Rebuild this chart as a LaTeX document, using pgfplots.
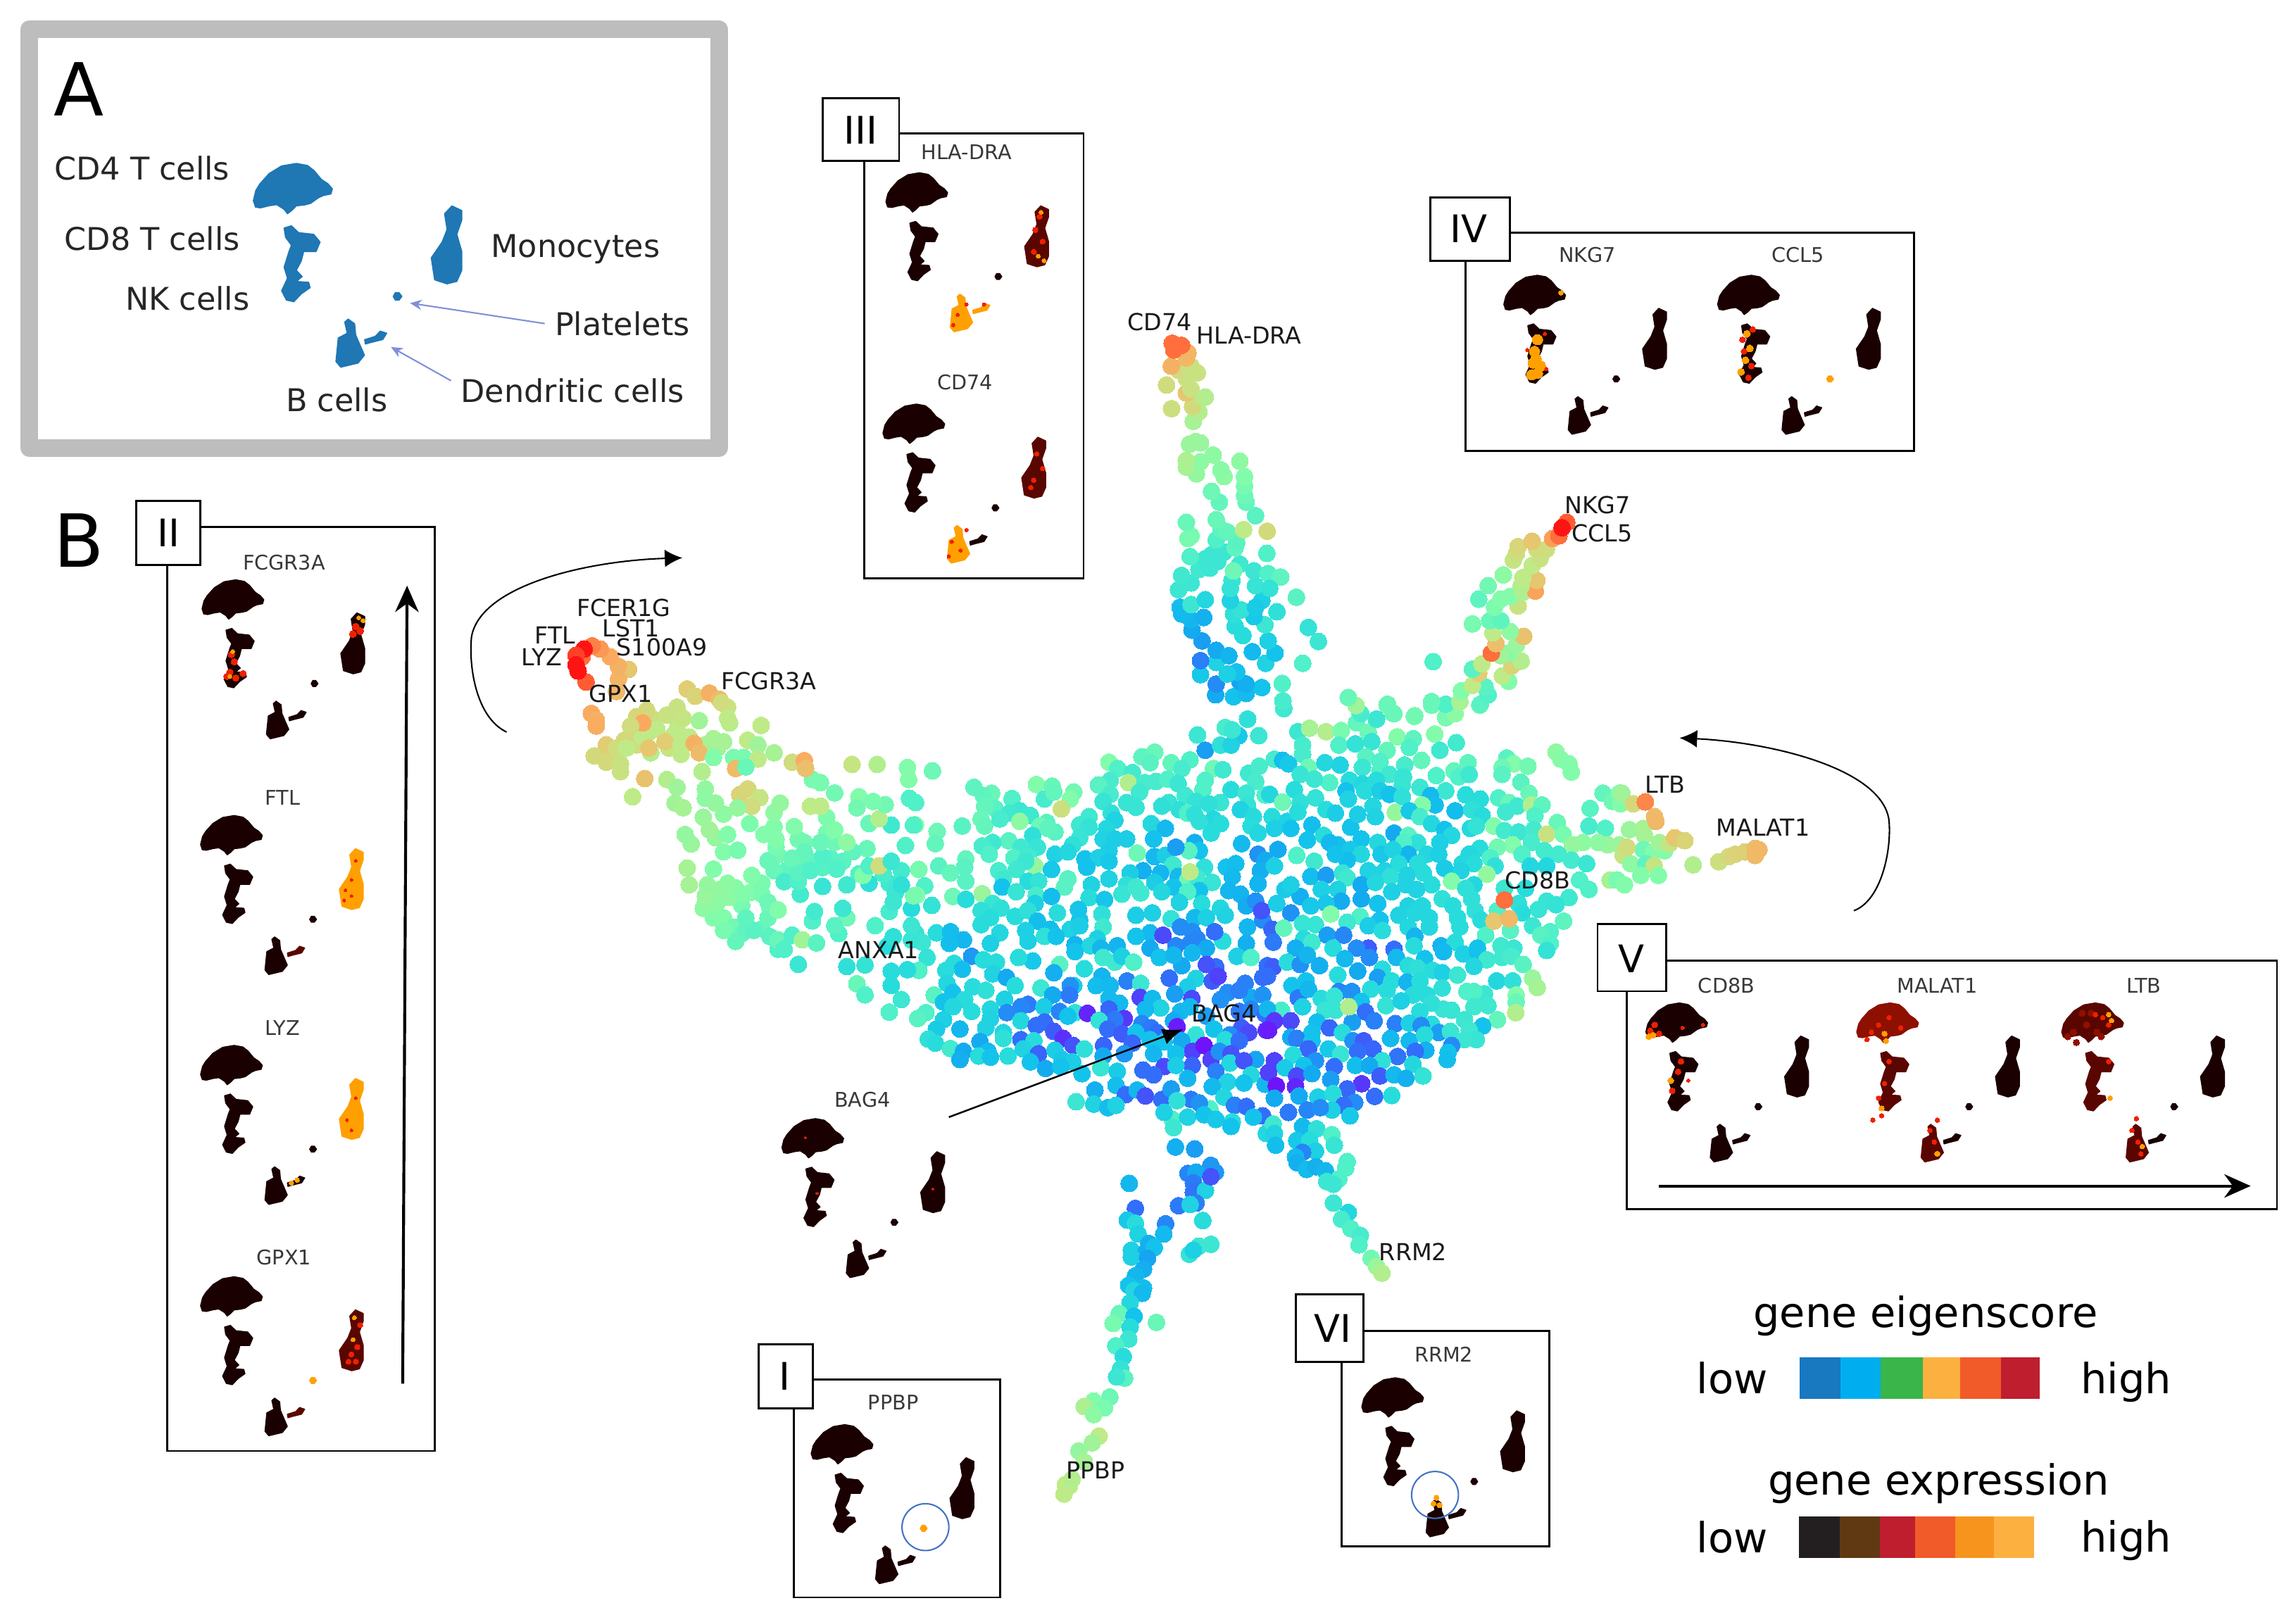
\documentclass[border=0pt]{standalone}
\usepackage{pgfplots}
\usepackage{pgfplotstable}
\usepackage{fontspec}
\setmainfont{DejaVu Sans}
\pgfplotsset{compat=1.18}
\usetikzlibrary{arrows.meta}
\definecolor{dk}{HTML}{1A0000}
\definecolor{dr}{HTML}{5A0600}
\definecolor{mr}{HTML}{8E1000}
\definecolor{or}{HTML}{FFA000}
\definecolor{rd}{HTML}{F02000}
\definecolor{ab}{HTML}{1F77B4}
\definecolor{la}{HTML}{7F8FD8}
\definecolor{circ}{HTML}{4472C4}
\definecolor{e1}{HTML}{1878C0}
\definecolor{e2}{HTML}{00AEEF}
\definecolor{e3}{HTML}{39B54A}
\definecolor{e4}{HTML}{FBB040}
\definecolor{e5}{HTML}{F15A29}
\definecolor{e6}{HTML}{BE1E2D}
\definecolor{g1}{HTML}{231F20}
\definecolor{g2}{HTML}{603913}
\definecolor{g5}{HTML}{F7941D}
\pgfplotstableread{
x y
174.7 130
177.5 125.5
183.8 118.5
192.3 113.3
202.4 111.6
210 113
214.5 116.5
219.5 122.5
224 125.5
227 129
226 132.5
221 133.5
217.6 135
212 139
208 140
202.4 140.6
199 144
196.3 146
194 143
189 139.8
184 140.5
178 142
174.5 141.5
173 137
}\tHead
\pgfplotstableread{
x y
194 155.7
199 154.2
204 158.9
214.2 160
218.6 165.3
215.9 171.8
207.4 171.8
205.8 178.2
202.4 184.6
206.4 188.9
202.4 192.2
210.8 192.8
211.8 196.5
205.8 200.7
200.7 206.1
195.6 205
192.3 198.6
196.3 190
194 182.5
197.3 171.8
199 167.5
195 162.1
}\tBody
\pgfplotstableread{
x y
308.6 140.6
315.4 143.8
315.4 150.3
312 160
315.4 171.8
315.4 184.6
312 192.2
305.3 193.9
296.8 191.1
294.5 176.1
301.9 165.3
305.3 156.7
303.6 146
}\tMono
\pgfplotstableread{
x y
268.5 202.5
270 199.8
272.5 199.8
274.5 202.5
272.5 205
270 205
}\tPlat
\pgfplotstableread{
x y
237.8 217.9
242.2 221.1
242.9 228.7
248.9 242.6
244.5 248
232.7 250.8
229.4 246.9
231 230.8
237.1 227.6
235.4 220
}\tB
\pgfplotstableread{
x y
249 232
256.3 229.7
259.7 226.1
264.1 227.6
261.4 231.9
253 234
249.5 235
}\tDC
\newcommand\ushape[5]{\addplot[fill=#5,draw=#5,line width=0.35pt,line join=round] table[x expr=#2+#1*(\thisrow{x}-173), y expr=#3+#1*(\thisrow{y}-111.6)] {#4} -- cycle;}
\newcommand\umap[9]{\ushape{#1}{#2}{#3}{\tHead}{#4}\ushape{#1}{#2}{#3}{\tBody}{#5}\ushape{#1}{#2}{#3}{\tMono}{#6}\ushape{#1}{#2}{#3}{\tPlat}{#7}\ushape{#1}{#2}{#3}{\tB}{#8}\ushape{#1}{#2}{#3}{\tDC}{#9}}
\newcommand\hot[3]{\addplot[only marks,mark=*,mark size=#2pt,mark options={draw=#1,fill=#1,line width=0pt}] coordinates {#3};}
\newcommand\seg[5]{\addplot[fill=#5,draw=none] coordinates {(#1,#3)(#2,#3)(#2,#4)(#1,#4)} -- cycle;}
\newcommand\txt[3]{\node[inner sep=0pt,anchor=center,#1] at (axis cs:#2) {#3};}
\newcommand\smt[2]{\txt{text=black!78}{#1}{\fontsize{6.9}{8}\selectfont #2}}
\newcommand\glb[2]{\txt{text=black!90}{#1}{\fontsize{8}{9}\selectfont #2}}
\newcommand\alb[2]{\txt{text=black!85}{#1}{\fontsize{10.7}{12}\selectfont #2}}
\newcommand\lgd[2]{\txt{text=black}{#1}{\fontsize{14.2}{16}\selectfont #2}}
\newcommand\frm[2]{\draw[line width=0.7pt,fill=white] (axis cs:#1) rectangle (axis cs:#2);}
\pgfplotsset{dots/.style={scatter,only marks,scatter src=explicit,mark=*,mark size=2.9pt,mark options={line width=0pt},scatter/use mapped color={draw=mapped color,fill=mapped color}},
 base/.style={width=784pt,height=551.5pt,scale only axis,xmin=0,xmax=1568,ymin=0,ymax=1103,y dir=reverse,hide axis,clip=false}}
\begin{document}
\begin{tikzpicture}
\begin{axis}[base,
 point meta min=0,point meta max=11,
 colormap={rb}{rgb255=(110,20,250) rgb255=(50,110,250) rgb255=(20,170,240) rgb255=(20,195,235) rgb255=(40,220,220) rgb255=(80,240,200) rgb255=(130,252,170) rgb255=(190,235,135) rgb255=(225,205,115) rgb255=(250,170,95) rgb255=(255,110,60) rgb255=(255,20,20)}]
\path (axis cs:0,0) rectangle (axis cs:1568,1103);
% --- tile A
\addplot[dots] table[row sep=\\,x expr=\thisrow{x}*0.1603+625.1,y expr=\thisrow{y}*0.1603+480.8,meta=c] {
x y c\\
1415 65 5\\1320 100 4.8\\1202 132 4.5\\1378 135 3.2\\1463 135 4.5\\1235 197 1.8\\1300 175 4.2\\1345 175 3.6\\1350 110 4.5\\
1020 205 5.5\\965 225 5.3\\1000 250 5.2\\825 248 6\\1090 250 5.4\\1170 238 5\\862 275 5\\925 292 4.7\\1135 275 4.8\\1270 275 5.6\\1310 280 4.6\\1420 295 4.6\\1465 265 4.8\\1235 325 5\\1450 330 4.8\\908 335 6.8\\978 335 4.8\\1025 330 4.8\\1075 320 5\\830 325 4.8\\780 345 5.2\\1120 340 4.5\\1225 365 5\\1345 365 4\\1410 380 4.5\\
1490 388 5\\830 385 4.8\\955 375 4.6\\800 415 4.4\\900 420 4.4\\940 440 4.4\\1080 420 4.4\\1150 390 4.6\\1195 415 4.3\\1050 435 4.2\\1125 450 4.2\\1300 420 4.4\\1250 425 4.2\\1415 430 4.3\\1160 465 5\\1385 450 3.6\\1270 490 3.8\\1440 480 3.9\\1300 510 4\\1190 470 4.2\\1210 500 4.2\\
73 285 5.6\\250 355 5.3\\325 380 5.5\\290 390 5.3\\412 403 5\\516 343 6\\583 350 5.5\\675 375 5.7\\550 405 4.8\\590 375 5.4\\660 405 6\\1 420 5\\0 515 6\\
340 445 5.2\\295 435 5.4\\445 455 4.5\\400 465 4.6\\490 475 4.6\\280 490 5.5\\295 520 5.4\\360 490 4.8\\445 500 6.2\\200 520 5.2\\93 543 5.6\\85 595 5.4\\560 505 5.2\\530 520 5.6\\595 545 5.2\\740 480 4.6\\700 515 4.6\\835 465 4.2\\850 495 3.6\\740 525 4.3\\815 530 3.8\\500 560 4.2\\565 530 5.3\\
398 583 5.2\\330 590 4.6\\285 605 4.8\\700 570 4.4\\800 575 3.6\\850 575 3.4\\900 575 3.4\\670 600 4.2\\1005 510 3.8\\1065 530 2.6\\1015 575 3\\1190 590 2.2\\1210 625 3\\1165 625 5.2\\1260 550 4\\1390 595 2.6\\1430 520 4\\1460 550 3.8\\
450 610 4.6\\520 610 4.4\\315 640 5\\420 655 5\\480 650 4.7\\595 640 3.6\\650 630 3.8\\825 625 3.4\\722 660 3\\780 655 3.5\\945 635 5.6\\1018 650 2.6\\1065 645 3.4\\1460 640 1.6\\1490 665 2\\
215 660 5.4\\100 690 5.2\\210 695 5.2\\825 670 3.2\\730 695 3\\510 690 6.3\\470 670 4.5\\1098 685 4.6\\1232 695 4.2\\1325 695 3\\1365 680 2.8\\15 705 5.8\\150 720 5.4\\355 710 4.8\\430 705 4.6\\580 705 3.2\\970 710 2.2\\1045 720 2.5\\915 720 3.4\\1120 735 2.6\\1470 710 2.2\\
215 755 5.2\\825 745 3.6\\650 745 5.2\\750 770 3.6\\375 745 4.6\\480 755 4\\525 755 4.3\\1160 750 5.6\\1200 740 4.6\\1265 760 4.4\\1350 735 2.6\\1460 765 2.4\\1020 760 3.4\\900 770 4.2\\40 775 5\\
635 780 5.2\\370 780 3\\430 800 4.4\\1100 780 3\\285 808 6.4\\160 820 5.6\\880 810 4.4\\940 780 4.6\\960 805 4.6\\1050 800 3.8\\740 825 4\\1210 795 3\\1335 795 2.5\\1385 810 2.4\\5 815 6\\515 815 4.8\\580 820 2.8\\1160 800 5\\215 832 4\\806 833 3.1\\1125 845 3.6\\
70 858 4.3\\330 850 4.4\\280 880 4.2\\365 870 4.2\\510 850 3.5\\695 875 3.1\\1220 850 4\\1300 870 3.8\\1410 860 2.1\\1450 840 1.6\\
425 905 4\\480 880 4.2\\605 890 4\\320 910 4\\940 900 3.4\\1010 890 3.5\\1090 915 4.3\\795 895 4.2\\700 920 3.1\\1190 910 2.6\\1240 910 3.5\\1320 900 3.6\\
280 940 4\\520 925 2.8\\800 950 4.6\\660 960 3.6\\700 945 3.4\\1130 950 1.5\\1180 970 1.5\\1415 950 2.5\\1480 920 1.5\\360 975 3.8\\470 965 3.5\\575 960 2.8\\
90 975 4\\150 970 2.8\\0 975 4.3\\205 1005 2.5\\550 990 4.2\\600 990 3\\1000 975 2.6\\940 990 3\\775 1000 3.5\\1200 1000 1.4\\1310 1010 4\\30 1015 4.5\\145 1020 2.8\\320 1020 3.5\\480 1010 3.5\\680 1025 2.4\\745 1030 3.8\\860 1030 2.4\\1110 1030 1.4\\1170 1020 1.4\\1410 1020 2.2\\1000 1040 2\\1240 1040 2\\790 1040 2.5\\
1110 610 1.8\\1475 880 0.7\\1055 985 0.6\\1275 970 1\\622 447 7.4\\1170 715 7\\
};
% --- tile B
\addplot[dots] table[row sep=\\,x expr=\thisrow{x}*0.1603+865.5,y expr=\thisrow{y}*0.1603+480.8,meta=c] {
x y c\\
70 20 4.8\\395 40 5\\465 65 4.7\\535 40 5.5\\628 50 5.8\\760 55 6\\800 40 6.2\\905 5 5.8\\510 5 5.8\\700 5 5.6\\
130 118 4.5\\180 103 6.6\\250 118 6.8\\315 113 5.8\\380 80 5.4\\430 120 5.6\\713 128 6\\553 140 6\\622 148 5.3\\805 165 4.7\\605 185 5\\
305 175 5\\375 170 4.3\\445 160 4.4\\150 175 4.8\\735 197 4.6\\510 198 5.4\\
1230 205 6.2\\1250 235 6.1\\1285 255 6\\1295 290 6\\1020 230 5.2\\1050 255 6\\1110 265 5.7\\1000 270 5.6\\1000 300 5.2\\
855 250 5.3\\795 285 5.4\\720 305 5\\815 310 5\\860 300 4.6\\657 240 5.4\\585 260 4.8\\30 235 4.8\\150 215 4.8\\65 240 2.8\\90 255 3.2\\175 270 5.6\\245 250 3.8\\310 260 3.6\\420 225 5.2\\480 245 5\\480 285 5\\405 270 4.5\\520 300 4.6\\580 310 4.4\\265 335 5\\140 300 4.4\\200 320 4.5\\1080 333 5.2\\
350 325 4\\405 340 3.8\\465 325 4\\335 370 3\\115 365 4\\650 355 4.5\\760 370 4.5\\695 390 2.6\\575 345 4.4\\415 370 4\\480 370 3.4\\520 385 3\\10 385 3.8\\1115 380 5.5\\845 387 4\\907 405 4\\985 400 5\\
65 418 5.6\\140 420 4.2\\205 400 4.3\\345 405 3.6\\575 395 4.2\\715 430 2.8\\660 430 6\\545 462 6.3\\605 455 3.2\\450 435 3.8\\800 455 2.8\\870 450 4.2\\915 475 4\\1030 420 5.5\\1015 460 4.6\\1065 435 4.6\\1125 430 6.8\\1170 430 5.3\\1375 445 5.2\\1430 380 5.4\\1470 415 5.6\\1500 380 6\\
20 480 4\\85 500 3.6\\130 460 4\\190 515 2.8\\250 450 4\\290 465 3.4\\355 525 3\\385 470 3.4\\460 480 3.6\\650 480 4.8\\700 510 3.8\\1140 475 5\\1235 505 5.5\\1370 520 4.8\\1440 530 5\\
865 530 3.8\\890 520 4.3\\965 520 6\\755 535 3\\785 560 3.8\\540 550 2\\600 560 5.2\\30 530 3.5\\100 530 3\\1010 540 4.7\\1070 545 4.5\\1135 535 4.7\\1190 555 7.3\\1260 555 5.8\\1345 590 6.2\\1300 600 6.3\\1500 600 6.4\\1450 600 6.4\\1410 590 6.2\\
170 580 3\\240 560 4\\400 575 3\\300 600 2.9\\265 590 2.6\\640 590 4.2\\580 590 5\\735 590 3.5\\470 590 3.8\\1045 600 6\\980 610 5.7\\905 615 4\\860 640 3.8\\1125 590 4.8\\1180 625 4.7\\1240 640 4.7\\
45 620 2\\125 645 5\\355 620 3.2\\400 640 3.8\\485 640 3.2\\600 640 2.4\\535 620 3.6\\680 640 3.8\\730 640 3.5\\1085 640 5\\1295 665 4.7\\950 655 5\\
30 690 3.5\\200 670 4.6\\340 665 2.8\\290 640 3\\640 680 4\\560 680 4\\970 690 4.2\\1360 680 4.5\\830 680 3.8\\880 680 4\\1120 690 3.8\\1190 690 3.8\\
185 735 2.8\\250 730 1.8\\320 720 4.4\\340 740 4.6\\430 710 3.6\\500 710 3.6\\525 735 4.2\\595 730 3.6\\665 720 4\\755 700 3.3\\825 710 3.6\\935 725 6.3\\
75 790 3.3\\400 770 2\\460 760 3.8\\590 770 3.6\\700 770 4\\785 755 6\\880 770 3.8\\1010 785 4.5\\1330 750 5\\1370 790 5\\1460 750 6.6\\1490 750 5.8\\635 790 3.6\\845 785 4.2\\1100 785 4\\
140 820 2.2\\230 790 3.5\\300 790 3.6\\100 770 3.5\\315 840 2.1\\400 830 2\\470 850 3\\530 800 3.5\\745 830 4.2\\870 830 4.2\\790 860 4\\1190 840 4.4\\1285 825 4.6\\1070 850 4.2\\
40 850 3.4\\185 860 3.2\\250 850 3.2\\100 890 1.6\\600 860 3.6\\660 860 3.8\\1155 875 4.4\\1230 855 4.3\\1085 890 4\\885 880 4.2\\980 880 5\\
270 895 6\\395 905 5\\150 935 4.4\\560 900 3.6\\630 890 3.8\\690 910 3.8\\810 910 4\\1262 925 5.3\\480 920 3\\1130 945 4.5\\910 920 4\\
20 960 0.9\\70 955 5.4\\340 930 4.6\\205 940 4.4\\430 945 3.4\\490 965 4\\600 950 3.8\\690 950 3.8\\820 950 4\\1205 970 5\\1035 965 5.2\\
255 985 1.8\\325 985 1.4\\628 990 2.4\\155 1000 4\\930 985 5\\1165 985 5.2\\
25 1015 1.2\\190 1015 4.6\\430 1040 0.8\\380 1040 1.5\\540 1045 1\\740 1030 2.4\\800 1015 4\\895 1040 3\\625 1030 4\\995 1030 4.6\\1050 1040 4.5\\1205 1020 5\\120 1040 2.2\\280 1040 4\\
965 925 8.2\\1030 915 8.6\\1010 835 10\\
};
% --- tile C
\addplot[dots] table[row sep=\\,x expr=\thisrow{x}*0.1603+625.1,y expr=\thisrow{y}*0.1603+649.1,meta=c] {
x y c\\
50 30 4.3\\240 25 1.7\\15 85 5\\165 55 4\\200 80 2.8\\130 85 4\\345 50 4\\290 40 4\\500 45 3.2\\440 30 4\\615 60 5.2\\720 78 4\\800 30 4.6\\850 50 4.6\\880 25 3.5\\930 50 5\\680 5 3\\1040 30 3\\1135 65 2\\1100 20 2.5\\1280 70 1\\1240 60 0.7\\1370 25 3.5\\1430 30 5\\1180 10 2.5\\
590 95 2.2\\330 100 3.6\\388 115 2\\135 140 3.8\\425 150 4\\535 160 4.5\\245 155 4\\300 170 4.2\\160 180 3\\80 190 5.2\\675 150 3.4\\660 150 1.6\\795 110 2.4\\770 150 2.8\\830 150 2.6\\902 130 1.3\\960 140 4.5\\1082 118 1\\1195 120 3.6\\1160 155 3.4\\1265 130 0.8\\1290 110 0.5\\1405 140 1.3\\1480 115 1\\1330 180 1.5\\
585 190 2\\657 190 1.2\\380 208 3.5\\120 220 3\\210 210 4\\480 230 1.2\\450 240 1.4\\548 240 3.4\\825 205 2.6\\870 225 2.6\\958 200 0.5\\1010 205 2.6\\1105 185 1.8\\1178 205 0.6\\1300 210 1.6\\1430 200 2\\1380 170 1.3\\1480 190 1.6\\
45 265 5\\160 240 3.8\\240 260 4\\320 250 3.8\\390 265 1.5\\615 260 1.4\\680 265 4.2\\650 280 3\\733 268 0.2\\825 250 0.9\\890 290 0.4\\1045 245 3.6\\980 250 2.6\\1130 260 2.5\\1170 240 2.6\\1100 300 2\\850 295 1.2\\1380 260 1.2\\1240 280 1.8\\1430 250 1.4\\1490 270 1\\
10 290 5.2\\120 295 3.5\\320 290 3.6\\450 300 3.8\\515 320 1\\550 305 1\\783 298 4.3\\965 312 1.4\\1005 330 1.2\\1195 360 4.3\\1272 335 3\\1495 340 0.3\\1390 330 0.8\\1420 350 0.6\\
90 335 3.3\\190 335 2.5\\300 330 3.6\\375 350 3.7\\450 380 1\\590 345 0.8\\630 375 0.3\\820 335 1\\880 355 0.8\\940 350 3\\1030 350 1\\1340 360 1.5\\1115 325 0.1\\
55 378 4.2\\85 395 4\\375 375 4.2\\505 385 4\\275 388 2\\150 418 4.7\\672 405 0.7\\802 405 0.9\\925 395 0.9\\1000 380 3\\1060 390 3\\1135 385 2\\1180 430 0.5\\1320 380 4\\1380 385 1\\1230 405 0\\
205 430 2\\310 430 2.7\\395 450 4\\460 420 3.6\\525 440 0.9\\595 425 3.4\\720 420 4.2\\1015 440 2.5\\1110 440 3\\1260 465 0.5\\1295 430 1.6\\1345 440 0.7\\1450 465 1.9\\
190 465 2.2\\270 450 4\\320 455 3\\490 475 3\\625 465 3.2\\670 475 3.4\\800 450 2\\890 440 1.7\\1060 495 0.6\\1180 490 0.9\\1340 480 3.8\\1400 470 0.7\\
555 503 2\\620 495 3\\790 500 4.4\\710 525 3\\860 515 3.3\\970 510 1\\1015 530 1\\1110 490 3.4\\1280 515 1.3\\
1430 530 3.8\\1160 545 2.5\\1330 560 3.6\\1490 570 2.5\\1400 565 3\\
765 595 2.2\\855 575 2.8\\895 615 1\\945 595 2.5\\980 620 0.7\\1050 635 1\\1090 590 1.8\\1175 635 1.2\\1265 580 2.6\\1315 625 3.8\\
685 645 4.5\\760 655 3.6\\820 670 2.8\\855 660 3.6\\1115 640 4.2\\1255 675 5\\1360 660 1.3\\1410 665 1\\1210 650 1.6\\
1480 705 1\\1095 720 5\\1060 690 3.5\\1160 710 3.6\\1230 700 3\\1350 730 4\\1280 720 3.2\\1100 755 4.5\\1345 750 3\\1440 710 3\\
1108 838 2.2\\1190 846 1.8\\1495 780 3.8\\
};
% --- tile D
\addplot[dots] table[row sep=\\,x expr=\thisrow{x}*0.1603+865.5,y expr=\thisrow{y}*0.1603+649.1,meta=c] {
x y c\\
0 65 1\\25 70 0.8\\85 50 4\\140 60 1.6\\222 65 2.2\\170 20 2.4\\330 35 2.6\\385 88 2\\435 30 1.5\\550 30 2.6\\670 35 3\\750 5 2.6\\835 15 3.5\\895 5 3\\935 40 4.6\\1000 30 4.6\\1040 25 4.8\\1090 60 5.2\\1190 0 4.3\\880 68 3.8\\
490 80 4\\600 65 4\\640 75 4.2\\705 85 4\\745 95 3.5\\810 105 4.5\\977 130 3.8\\1045 130 4.2\\1130 118 6.4\\1150 158 6.6\\
105 150 3\\165 130 3\\300 105 4\\470 115 1.8\\530 130 4\\595 135 2.4\\440 165 4\\650 130 4\\745 160 4.2\\0 110 1\\
132 202 1.2\\305 175 1.4\\360 175 1.6\\175 165 2.5\\230 205 4\\285 195 4.4\\510 170 4\\620 190 4\\680 190 4\\850 175 5\\925 185 4.5\\880 175 5\\1060 190 6\\
400 218 3\\60 255 4.8\\150 240 3.6\\290 255 4.4\\245 255 4.4\\505 235 4.3\\570 215 3.5\\750 250 4.4\\785 255 4.4\\1060 220 5.5\\880 240 4.6\\940 235 4.6\\700 225 4.2\\650 260 4\\0 250 2.5\\
418 262 1\\455 300 1.3\\545 312 1.3\\362 305 1.8\\212 305 2.8\\100 300 0.6\\30 300 0.4\\605 310 3.5\\980 295 5.4\\1058 265 6.8\\840 295 4.5\\917 322 3\\
265 330 0.9\\320 350 4\\700 315 4\\730 350 1.8\\655 320 1.5\\780 345 4.4\\860 340 4.6\\190 350 3\\525 375 2.6\\100 370 2\\5 340 0.1\\
125 375 1.3\\190 385 3\\365 385 1.6\\410 385 0.8\\605 385 2.6\\670 360 4\\890 380 4.4\\840 380 4.5\\260 420 3.2\\
450 420 0.9\\385 430 1\\785 405 1.5\\175 420 0.9\\312 442 4.4\\110 445 4\\675 425 2.3\\630 430 1\\555 452 1.1\\
770 435 3\\766 465 2.8\\490 470 4.2\\30 470 0.5\\205 470 1.6\\620 485 3.8\\375 490 2.8\\285 495 1\\435 490 2\\75 500 3.3\\155 490 3\\
125 535 0.6\\190 525 2\\270 550 1.8\\480 535 0.8\\540 530 2.6\\590 545 2.2\\663 535 4.3\\5 520 0.5\\402 568 0.4\\340 590 0.9\\38 577 0\\
120 580 0.2\\135 620 2\\215 625 3.5\\280 610 4\\457 622 1\\530 618 4\\
30 630 2\\372 648 1.5\\325 660 1\\90 690 1.2\\170 680 1.4\\275 680 3.5\\225 670 1.5\\352 705 3.2\\
25 740 4.6\\150 750 2.6\\210 760 4.2\\275 785 5\\30 780 3.6\\125 810 3.2\\180 810 4\\285 830 4.4\\35 830 2.8\\205 855 3.5\\150 860 1.4\\120 880 2.6\\340 900 5\\347 240 6.8\\
};
% --- left arm
\addplot[dots] table[row sep=\\,x expr=\thisrow{x}*0.276+288.5,y expr=\thisrow{y}*0.2147+360.6,meta=c] {
x y c\\
700 1190 6.3\\720 1210 6.2\\745 1240 6\\770 1270 5.7\\790 1290 5.5\\735 1150 6.3\\775 1145 6.1\\810 1160 6\\840 1165 5.8\\860 1210 5.8\\840 1275 5.4\\800 1280 5.3\\860 1300 5.2\\880 1340 5\\790 1200 5.8\\
930 990 5.7\\940 1060 5.5\\960 1060 5.3\\990 1080 5.1\\1010 1050 5.2\\1040 1060 5.2\\1020 1000 5.6\\1000 970 5.8\\880 1040 5.7\\900 1090 5.3\\870 1090 5.5\\
1100 1020 5.5\\1080 1100 5\\1155 1130 4.6\\1140 1100 4.8\\1185 1090 4.7\\1170 1160 4.5\\
1075 1450 5.5\\1160 1455 4\\1095 1485 5\\1185 1500 4.5\\1155 1540 5\\
1150 1330 4\\930 1388 4.5\\1050 1395 4.2\\1095 1390 4.3\\1160 1410 4\\1200 1405 4\\
775 1315 5.4\\880 1310 5.5\\915 1295 5\\940 1310 6.5\\975 1320 5.2\\895 1340 5\\1165 1300 4.2\\1210 1310 4.4\\
745 1280 5.8\\820 1280 5.2\\1030 1290 5\\
720 1240 6\\800 1240 5.3\\855 1240 5.5\\1050 1240 5.6\\1020 1265 5.2\\965 1250 5\\1120 1265 5\\1210 1265 4.5\\
695 1210 6.2\\730 1190 6.2\\855 1190 5.6\\880 1215 6\\970 1220 4.7\\1040 1210 4.5\\1210 1210 4\\1155 1220 4.8\\
700 1170 6.4\\760 1175 6.2\\790 1165 6\\935 1165 4.7\\1215 1170 5.8\\1165 1190 4.5\\
705 1135 6.3\\755 1130 6.2\\840 1130 5.8\\895 1125 4.8\\930 1125 5\\990 1140 4.4\\1050 1135 4.6\\1105 1130 4.2\\1185 1135 4.2\\
660 1135 6.6\\815 1105 6\\930 1095 5.2\\1090 1105 6\\960 1090 5\\
855 1058 5.5\\915 1050 5.5\\1025 1085 5\\1105 1075 5\\655 1082 6.6\\720 1085 6\\1130 1075 7.5\\
745 1030 6\\780 1025 5.8\\875 1015 5.8\\945 1000 5.7\\1065 1030 5.3\\945 1030 5.4\\990 1045 5\\1160 1060 4.5\\
665 1005 6.4\\845 975 6\\985 1000 5.5\\725 985 6.3\\1050 1000 6.2\\875 990 6\\1195 1010 5\\
810 940 5.9\\920 950 6\\650 975 6.3\\710 960 6.5\\755 975 6\\870 950 6\\1020 960 6\\
695 920 6.4\\870 905 6.2\\745 910 6.2\\1000 920 5.9\\1105 940 5.5\\1160 945 4.6\\1215 945 5\\1130 925 6.8\\
965 800 5.8\\985 810 5.8\\1020 843 5.7\\700 830 6.3\\785 848 7.8\\805 830 7.7\\835 858 7.2\\700 860 6.2\\725 875 6.3\\625 875 6.5\\645 890 6.6\\815 885 7.5\\885 875 6.3\\780 890 6.3\\1080 855 6\\1145 880 5.7\\1115 870 5.8\\1205 860 5\\1075 890 5.7\\960 885 7\\985 885 7\\
560 650 7.2\\520 670 7.6\\620 660 7.2\\660 665 7\\700 690 6.7\\730 700 6.5\\610 700 7.2\\530 690 7.5\\445 720 7.7\\470 730 7.6\\540 640 7.3\\575 610 7.4\\630 610 7.2\\760 620 6.9\\
455 690 8\\425 725 7.6\\500 675 7.6\\480 700 7.5\\545 665 7\\580 640 7\\630 640 7\\600 680 8\\640 690 7\\672 685 8.8\\685 715 8.5\\720 670 6.6\\745 680 6.6\\565 715 6.8\\560 700 8.2\\640 720 7\\505 700 7\\455 745 7.6\\490 750 7.3\\490 775 7.3\\550 797 8.3\\692 775 6.8\\805 675 7\\830 690 6.5\\870 715 6.6\\720 730 6\\770 730 5.8\\795 730 5.8\\830 735 7\\775 765 8.5\\800 760 5.5\\915 745 7.5\\945 740 8.9\\948 765 8.4\\605 800 6.8\\630 825 6.5\\520 855 7\\1063 752 7.2\\1125 752 6.8\\1200 762 6\\1203 800 6\\
555 580 7.6\\530 600 7.7\\545 620 9\\630 570 7.3\\605 595 7.3\\645 605 7.2\\515 630 7.5\\685 613 6.5\\838 628 7\\
655 512 8\\675 535 7.8\\710 525 8.8\\735 545 8.5\\755 570 7.3\\740 555 7.5\\755 605 7\\
418 590 9\\430 610 8.8\\430 630 8.9\\
510 450 8.2\\485 480 8.7\\480 520 8.6\\485 440 8.8\\465 410 9\\440 385 9.3\\420 375 9.7\\405 490 10.2\\395 410 10\\400 385 11\\380 405 10.5\\380 435 11\\385 455 11\\
};
% --- top arm and NK arm
\addplot[dots] table[row sep=\\,x expr=\thisrow{x}*0.2147+769.4,y expr=\thisrow{y}*0.184+206.8,meta=c] {
x y c\\
385 1545 4.2\\500 1505 4.6\\497 1477 4.8\\283 1455 2\\340 1462 3\\380 1450 2.7\\495 1413 5\\430 1428 3\\285 1415 1.5\\360 1405 1.9\\380 1415 2.2\\350 1370 3\\235 1380 3.2\\320 1378 3.5\\285 1335 3.6\\442 1338 3.6\\560 1338 5\\235 1328 1.3\\400 1295 2.6\\472 1300 3\\285 1290 2\\325 1310 2.4\\240 1255 1.8\\450 1255 3.5\\610 1257 4.5\\370 1235 4\\208 1215 2\\578 1205 4.3\\345 1200 4\\440 1195 4.5\\205 1175 2.5\\245 1168 2.3\\405 1165 3.2\\170 1130 2.8\\175 1155 2.6\\478 1147 4.2\\340 1155 4.2\\365 1140 4.3\\430 1105 3.5\\410 1130 3.3\\205 1120 4.5\\250 1102 3.8\\330 1105 3.6\\540 1093 5.2\\165 1065 4.5\\335 1030 4.4\\405 995 4.5\\450 1005 5\\490 1018 5.3\\410 1050 4.4\\455 1060 4.3\\330 1060 4.3\\205 1040 4.5\\175 1012 4.6\\230 990 4.6\\265 985 4.5\\360 970 4.6\\340 995 5.6\\250 950 4.5\\290 960 4.5\\310 925 4.5\\270 935 4.5\\202 942 5\\446 930 5\\345 910 5.3\\350 890 5.2\\285 880 5\\300 840 5.3\\320 850 5.4\\205 865 5.8\\195 875 5.8\\372 842 7\\447 848 7.6\\190 815 5.5\\285 805 5.5\\410 790 5.2\\295 740 5.4\\380 740 5.4\\375 715 5.6\\270 700 5.6\\375 680 5.8\\375 645 6\\310 645 6.2\\360 588 6.2\\300 620 6.1\\222 635 6.3\\190 610 6.6\\275 565 6.2\\235 590 6.2\\190 585 6.7\\235 520 6.4\\200 525 6.4\\220 515 6.4\\212 440 6.6\\230 405 6.8\\143 393 7.4\\210 385 7.6\\210 345 7.4\\250 350 6.8\\190 335 8.2\\205 320 7.3\\127 305 7.5\\190 280 7.3\\165 250 7.5\\225 260 7.3\\205 235 7.3\\142 235 8.8\\190 205 8.6\\195 185 8.7\\145 150 10\\165 160 10\\150 175 10\\175 158 10\\
915 1535 5.7\\850 1525 5.5\\830 1490 5.5\\795 1545 4.5\\745 1525 4.8\\730 1495 6.5\\705 1465 5.5\\1015 1540 5.8\\1045 1525 6.2\\1125 1490 5.2\\1015 1490 5\\970 1480 5.5\\1060 1480 6.6\\1150 1455 5\\1140 1425 5.2\\1065 1440 6\\1100 1420 7\\1215 1405 6\\1195 1385 7\\1120 1375 8\\1100 1360 5.2\\1130 1340 7\\1225 1348 7.8\\975 1332 5\\1255 1330 6.8\\1215 1300 6\\1190 1310 6.5\\1160 1300 10\\1240 1270 6.4\\1175 1265 8.4\\1263 1238 8.3\\1220 1220 6.2\\1165 1225 7\\1155 1180 5.5\\1190 1180 5.3\\1100 1192 5.8\\1245 1125 7.3\\1170 1130 5.9\\1220 1090 6\\1190 1100 6\\1260 1075 6.7\\1120 1100 5.3\\1150 1050 5.7\\1300 1070 9.1\\1255 1050 6.8\\1305 1030 8.2\\1260 1020 7\\1198 1010 6.2\\1290 975 7\\1315 950 7.3\\1230 955 7.2\\1240 930 7.4\\1335 915 7.4\\1305 915 7.5\\1245 905 7.7\\1290 885 8.2\\1355 875 9.2\\1375 865 10\\1400 815 10.2\\1385 835 11\\
};
% --- right arm
\addplot[dots] table[row sep=\\,x expr=\thisrow{x}*0.1717+961.7,y expr=\thisrow{y}*0.1603+456.8,meta=c] {
x y c\\
845 575 6\\850 530 6.5\\880 685 6.4\\935 680 6.6\\940 710 6.6\\855 795 7.2\\885 830 6.2\\935 770 5.6\\975 780 6\\1020 775 6\\945 830 5.3\\978 838 7.2\\925 880 6\\995 880 6\\860 920 6\\870 760 7.5\\895 575 7.6\\980 630 8.5\\985 650 8.6\\943 567 9.6\\1000 740 6.5\\1040 745 7.2\\1060 720 8.2\\1100 732 7.8\\1133 835 6.8\\1235 822 7.4\\1275 800 7.6\\1300 790 7.8\\1340 780 7.9\\1380 795 8.5\\1380 765 8.5\\1395 770 8.6\\
};
% --- bottom arms
\addplot[dots] table[row sep=\\,x expr=\thisrow{x}*0.184+697.2,y expr=\thisrow{y}*0.184+745.3,meta=c] {
x y c\\
1025 265 2.2\\1060 290 2.7\\1095 280 2.3\\1130 295 2.5\\1205 285 5\\1180 325 5\\1135 335 4.5\\1160 345 4.5\\
705 275 1.7\\620 305 1.4\\650 300 2\\722 300 1.7\\640 340 1.2\\640 375 1.1\\685 368 3.6\\585 425 1.2\\650 415 1.3\\628 420 3.6\\705 317 0.7\\402 342 2.5\\675 480 4\\425 435 1\\395 478 3.2\\425 490 4\\537 492 1.4\\530 530 2.6\\435 530 3.6\\475 565 2.2\\410 590 3.5\\465 595 2.2\\495 580 3\\410 615 3.5\\470 620 1.9\\455 660 2.2\\425 685 2.5\\400 720 3\\455 730 2.8\\420 740 3.8\\450 750 2.6\\405 785 3.8\\365 825 5.5\\420 835 3\\342 862 5.8\\405 875 4\\503 858 5.5\\400 920 4.5\\352 945 5\\380 985 4\\370 1030 4.3\\385 1065 5.2\\355 1060 4.5\\
705 568 4.5\\660 575 4.5\\625 605 4.3\\640 590 3.5\\
1160 415 4.5\\1215 450 3.8\\1190 475 4.8\\1225 510 5\\1260 535 4.8\\1255 570 5\\1300 620 5.7\\1320 650 6.4\\1340 675 6.8\\
330 1135 5.6\\270 1150 6\\235 1170 6.7\\310 1175 5.8\\270 1200 6.2\\290 1280 7\\265 1305 6.5\\215 1335 6.3\\235 1375 6.6\\165 1460 7\\180 1465 7\\160 1495 7\\190 1440 6.8\\
};
% --- panel frames
\draw[line width=6pt,color=black!26,line join=round] (axis cs:20,20) rectangle (axis cs:491,306);
\frm{114,360}{297,991}\frm{590,91}{740,395}\frm{1001,159}{1307,308}\frm{1111,656}{1555,826}\frm{916,909}{1058,1056}\frm{542,942}{683,1091}
\frm{93,342}{137,386}\frm{562,67}{614,110}\frm{977,135}{1031,178}\frm{1091,631}{1138,677}\frm{885,884}{931,930}\frm{518,918}{555,962}
% --- panel A
\umap{1}{173}{111.6}{ab}{ab}{ab}{ab}{ab}{ab}
% --- small maps
\umap{0.78}{138}{396}{dk}{dk}{dk}{dk}{dk}{dk}
\hot{rd}{1.1}{(158,447)(160,452)(157,459)(161,463)(155,462)(166,460)}
\hot{or}{0.7}{(157,462)(159,445)(245,422)(248,424)}
\hot{rd}{1.2}{(243,428)(246,431)(241,433)}
\umap{0.78}{137}{557}{dk}{dk}{or}{dk}{dk}{dr}
\hot{rd}{0.5}{(236,608)(240,612)(235,615)(243,588)(240,601)}
\umap{0.78}{137}{714}{dk}{dk}{or}{dk}{dk}{dk}
\hot{rd}{0.5}{(237,765)(243,750)(240,772)}
\hot{or}{0.8}{(203,806)(199,808)}
\umap{0.78}{137}{872}{dk}{dk}{dr}{or}{dk}{dr}
\hot{rd}{0.9}{(240,925)(244,920)(238,930)(246,905)(243,930)}
\hot{or}{0.7}{(242,900)(241,915)}
\umap{0.78}{605}{118}{dk}{dk}{dr}{dk}{or}{or}
\hot{rd}{0.9}{(710,148)(706,172)(712,165)(707,157)}
\hot{or}{0.7}{(711,145)(709,175)(713,178)}
\hot{rd}{0.6}{(654,215)(660,208)(651,222)(672,208)}
\umap{0.78}{603}{276}{dk}{dk}{dr}{dk}{or}{dk}
\hot{rd}{0.8}{(708,310)(706,328)(712,320)(704,333)}
\hot{rd}{0.6}{(650,370)(656,376)(648,380)(660,362)}
\umap{0.78}{1027}{188}{dk}{dk}{dk}{dk}{dk}{dk}
\hot{or}{1.8}{(1050,232)(1048,240)(1047,248)(1050,255)(1046,256)(1052,250)(1049,245)}
\hot{rd}{0.6}{(1055,228)(1056,252)(1043,239)}
\hot{or}{0.8}{(1066,200)}
\umap{0.78}{1173}{188}{dk}{dk}{dk}{or}{dk}{dk}
\hot{or}{1.2}{(1193,228)(1195,238)(1192,246)(1189,254)}
\hot{rd}{1}{(1190,232)(1197,225)(1191,240)(1196,250)(1194,258)}
\umap{0.78}{534}{764}{dk}{dk}{dk}{dk}{dk}{dk}
\hot{rd}{0.4}{(550,777)(637,812)(558,815)}
\umap{0.78}{554}{973}{dk}{dk}{dk}{or}{dk}{dk}
\umap{0.78}{930}{941}{dk}{dk}{dk}{dk}{dk}{dk}
\hot{or}{0.9}{(981,1023)(979,1027)(983,1028)}
\umap{0.78}{1124}{685}{dk}{dk}{dk}{dk}{dk}{dk}
\hot{rd}{1}{(1127,704)(1130,700)(1133,706)(1146,732)(1148,725)(1142,745)}
\hot{or}{1}{(1126,708)(1129,707)(1141,738)}
\hot{rd}{0.6}{(1149,702)(1163,700)(1153,738)}
\umap{0.78}{1268}{685}{mr}{dr}{dk}{dk}{dr}{dk}
\hot{rd}{0.8}{(1283,700)(1290,695)(1278,705)(1275,710)(1298,702)(1290,725)(1287,740)(1283,750)(1279,765)(1285,762)(1321,780)(1318,772)(1323,765)}
\hot{or}{0.9}{(1287,706)(1288,711)(1285,757)(1323,788)}
\umap{0.78}{1408}{685}{dr}{dr}{dk}{dk}{dr}{dk}
\hot{mr}{1.1}{(1416,705)(1425,700)(1412,708)(1432,705)(1422,692)(1418,712)(1428,692)(1435,708)}
\hot{rd}{0.8}{(1431,693)(1436,695)(1440,700)(1460,780)(1456,772)(1462,788)(1459,764)(1440,725)}
\hot{or}{0.8}{(1442,697)(1440,693)(1463,783)(1441,750)}
% --- legends
\seg{1229}{1257}{927}{955.6}{e1}\seg{1257}{1284.4}{927}{955.6}{e2}\seg{1284.4}{1313}{927}{955.6}{e3}\seg{1313}{1338.4}{927}{955.6}{e4}\seg{1338.4}{1366.3}{927}{955.6}{e5}\seg{1366.3}{1393}{927}{955.6}{e6}
\seg{1228.3}{1256.2}{1035.7}{1064}{g1}\seg{1256.2}{1284}{1035.7}{1064}{g2}\seg{1284}{1308}{1035.7}{1064}{e6}\seg{1308}{1335.3}{1035.7}{1064}{e5}\seg{1335.3}{1361.6}{1035.7}{1064}{g5}\seg{1361.6}{1389.2}{1035.7}{1064}{e4}
\end{axis}
\begin{axis}[base]
\path (axis cs:0,0) rectangle (axis cs:1568,1103);
\txt{text=black}{115,364}{\fontsize{13}{15}\selectfont II}
\txt{text=black}{588,89}{\fontsize{13}{15}\selectfont III}
\txt{text=black}{1003,156}{\fontsize{13}{15}\selectfont IV}
\txt{text=black}{1114,655}{\fontsize{13}{15}\selectfont V}
\txt{text=black}{910,907}{\fontsize{13}{15}\selectfont VI}
\txt{text=black}{536,940}{\fontsize{13}{15}\selectfont I}
% --- gene map labels
\glb{792,220}{CD74}\glb{853,229}{HLA-DRA}\glb{1091,345}{NKG7}\glb{1094,364}{CCL5}\glb{426,415}{FCER1G}\glb{431,429}{LST1}\glb{379,434}{FTL}\glb{370,449}{LYZ}\glb{452,442}{S100A9}\glb{424,474}{GPX1}\glb{525,465}{FCGR3A}\glb{1137,536}{LTB}\glb{1204,565}{MALAT1}\glb{1050,601}{CD8B}\glb{600,649}{ANXA1}\glb{836,692}{BAG4}\glb{965,855}{RRM2}\glb{748,1004}{PPBP}
% --- small titles
\smt{660,104}{HLA-DRA}\smt{659,261}{CD74}\smt{1084,174}{NKG7}\smt{1228,174}{CCL5}\smt{194,384}{FCGR3A}\smt{193,545}{FTL}\smt{193,702}{LYZ}\smt{194,859}{GPX1}\smt{589,751}{BAG4}\smt{610,958}{PPBP}\smt{986,925}{RRM2}\smt{1179,673}{CD8B}\smt{1323,673}{MALAT1}\smt{1464,673}{LTB}
% --- panel A text
\txt{text=black}{54,61}{\fontsize{25}{28}\selectfont A}
\txt{text=black}{54,369}{\fontsize{25}{28}\selectfont B}
\alb{97,115}{CD4 T cells}\alb{104,163}{CD8 T cells}\alb{128,204}{NK cells}\alb{393,170}{Monocytes}\alb{425,221}{Platelets}\alb{391,267}{Dendritic cells}\alb{230,273}{B cells}
% --- arrows
\draw[la,line width=0.5pt,-{Stealth[length=4pt,width=3.5pt]}] (axis cs:372,221) -- (axis cs:280,207);
\draw[la,line width=0.5pt,-{Stealth[length=4pt,width=3.5pt]}] (axis cs:308,260) -- (axis cs:267,237);
\draw[black,line width=0.5pt,-{Latex[length=6pt,width=6pt]}] (axis cs:346,500) .. controls (axis cs:325,490) and (axis cs:320,455) .. (axis cs:322,435) .. controls (axis cs:328,400) and (axis cs:400,383) .. (axis cs:466,381);
\draw[black,line width=0.5pt,-{Latex[length=6pt,width=6pt]}] (axis cs:1266,622) .. controls (axis cs:1285,615) and (axis cs:1292,580) .. (axis cs:1290,560) .. controls (axis cs:1285,525) and (axis cs:1210,507) .. (axis cs:1147,504);
\draw[black,line width=0.6pt,-{Latex[length=7pt,width=5.5pt]}] (axis cs:648,763) -- (axis cs:808,703);
\draw[black,line width=1pt,-{Stealth[length=9pt,width=8pt]}] (axis cs:275,945) -- (axis cs:278,400);
\draw[black,line width=1pt,-{Stealth[length=9pt,width=8pt]}] (axis cs:1133,810) -- (axis cs:1537,810);
\draw[color=circ,line width=0.5pt] (axis cs:632,1043) circle[radius=8pt];
\draw[color=circ,line width=0.5pt] (axis cs:980,1021) circle[radius=8pt];
\lgd{1315,899}{gene eigenscore}\lgd{1324,1013}{gene expression}\lgd{1183,941}{low}\lgd{1452,944}{high}\lgd{1183,1050}{low}\lgd{1452,1052}{high}
\end{axis}
\end{tikzpicture}
\end{document}
